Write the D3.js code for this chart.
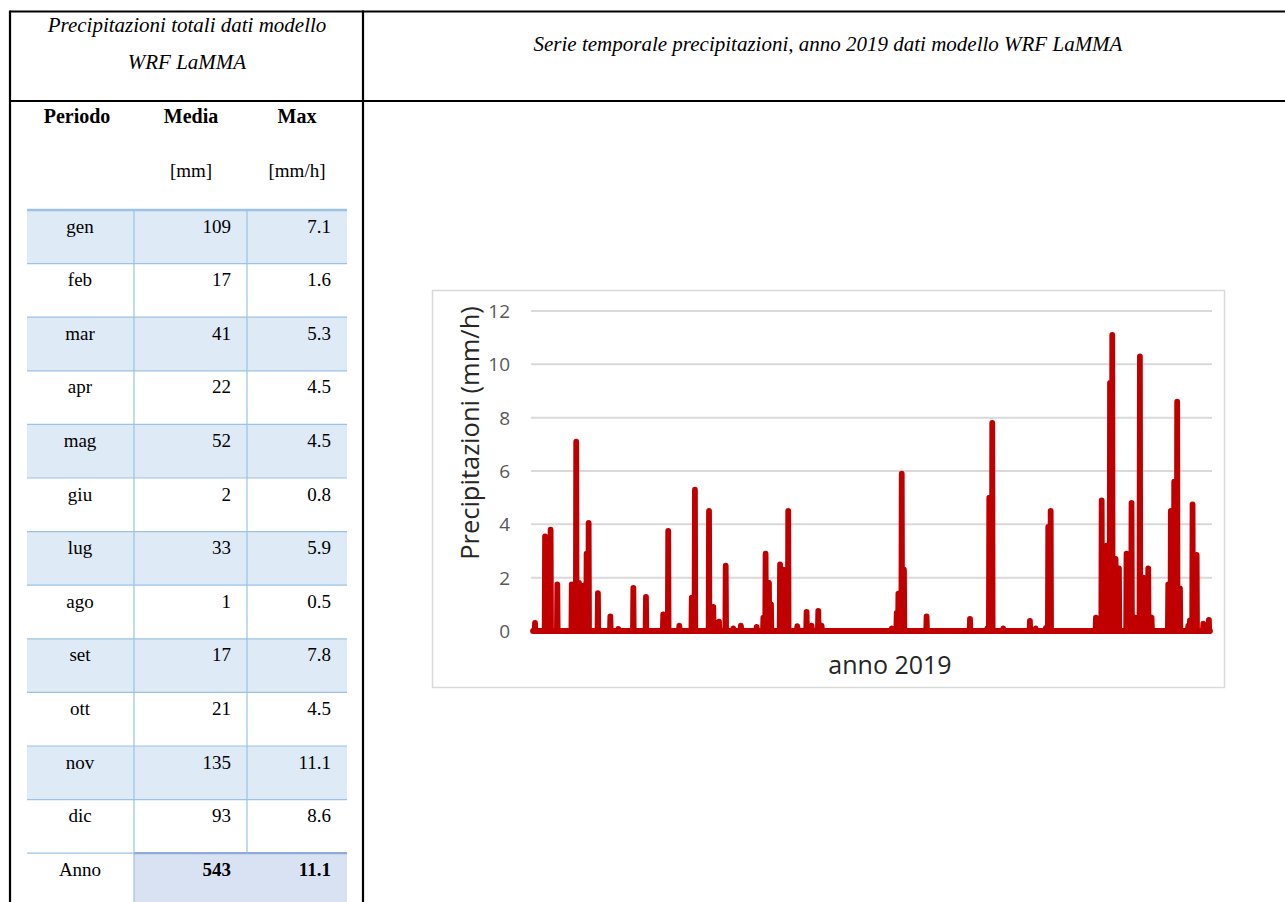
<!DOCTYPE html>
<html><head><meta charset="utf-8">
<script src="https://cdn.jsdelivr.net/npm/d3@7"></script>
<style>html,body{margin:0;padding:0;background:#fff;} svg{display:block}</style>
</head><body><svg id="c" width="1285" height="902"></svg>
<script>
// ---- data ----
const months = ["gen","feb","mar","apr","mag","giu","lug","ago","set","ott","nov","dic"];
const mediaMm = [109,17,41,22,52,2,33,1,17,21,135,93];
const maxMmH = [7.1,1.6,5.3,4.5,4.5,0.8,5.9,0.5,7.8,4.5,11.1,8.6];
const annoLabel = "Anno";
const annoMedia = 543;
const annoMax = 11.1;
const yTicks = [0,2,4,6,8,10,12];
// rain events: day of year and peak hourly rate (mm/h)
const spikeDay = [1.1,6.5,9.5,13.1,20.9,23.3,24.8,27.1,28.9,30.0,35.0,41.7,46.0,54.1,60.9,70.2,72.9,78.9,85.6,87.3,
  94.9,97.2,100.3,103.9,108.0,112.1,120.6,124.2,125.4,127.2,128.3,133.2,134.9,137.6,142.5,147.5,150.2,153.8,155.6,
  193.4,196.1,197.0,198.8,200.0,212.2,235.6,244.9,246.0,247.6,253.5,267.9,271.0,276.5,277.8,279.1,
  303.5,306.6,309.3,311.1,312.3,314.1,315.9,320.0,322.7,324.5,327.2,329.0,331.7,333.5,
  342.5,343.9,345.7,347.3,348.8,353.3,354.2,355.6,357.8,361.4,364.4];
const spikeMmH = [0.3,3.55,3.8,1.75,1.75,7.1,1.8,1.7,2.9,4.05,1.42,0.55,0.08,1.62,1.28,0.62,3.75,0.2,1.25,5.3,
  4.5,0.9,0.35,2.45,0.1,0.2,0.15,0.5,2.9,1.8,1.0,2.5,2.3,4.5,0.18,0.72,0.2,0.75,0.2,
  0.1,0.68,1.4,5.9,2.3,0.55,0.45,0.1,5.0,7.8,0.1,0.38,0.1,0.12,3.9,4.5,
  0.5,4.9,3.2,9.3,11.1,2.7,2.35,2.9,4.8,0.5,10.3,2.0,2.35,0.5,
  1.75,4.5,5.6,8.6,1.6,0.2,0.4,4.75,2.85,0.28,0.42];

const svg = d3.select("#c");
const serif = "'Liberation Serif','Times New Roman',serif";
const sans = "'Open Sans','Noto Sans',sans-serif";

// ---- outer table frame ----
const frame = svg.append("g").attr("stroke","#000").attr("stroke-width",2.2);
frame.append("line").attr("x1",10).attr("x2",1285).attr("y1",11.5).attr("y2",11.5);
frame.append("line").attr("x1",10).attr("x2",1285).attr("y1",101).attr("y2",101);
frame.append("line").attr("x1",10).attr("x2",10).attr("y1",10.5).attr("y2",902);
frame.append("line").attr("x1",363).attr("x2",363).attr("y1",10.5).attr("y2",902);

// header texts
svg.append("text").attr("x",187).attr("y",32).attr("text-anchor","middle")
  .attr("font-family",serif).attr("font-style","italic").attr("font-size",21).attr("fill","#000")
  .text("Precipitazioni totali dati modello");
svg.append("text").attr("x",187).attr("y",69).attr("text-anchor","middle")
  .attr("font-family",serif).attr("font-style","italic").attr("font-size",21).attr("fill","#000")
  .text("WRF LaMMA");
svg.append("text").attr("x",828).attr("y",51).attr("text-anchor","middle")
  .attr("font-family",serif).attr("font-style","italic").attr("font-size",21).attr("fill","#000")
  .text("Serie temporale precipitazioni, anno 2019 dati modello WRF LaMMA");

// ---- monthly table ----
const colX = [27,134,247,347];
const rowTop = 210, rowH = 53.6;
const tbl = svg.append("g");
const heads = [["Periodo",77],["Media",191],["Max",297]];
tbl.selectAll("text.h").data(heads).enter().append("text")
  .attr("x",d=>d[1]).attr("y",123).attr("text-anchor","middle")
  .attr("font-family",serif).attr("font-weight","bold").attr("font-size",20).text(d=>d[0]);
tbl.selectAll("text.u").data([["[mm]",191],["[mm/h]",297]]).enter().append("text")
  .attr("x",d=>d[1]).attr("y",177).attr("text-anchor","middle")
  .attr("font-family",serif).attr("font-size",19).text(d=>d[0]);

const rows = months.map((m,i)=>({m, med:mediaMm[i], mx:maxMmH[i], i}));
// fills
tbl.selectAll("rect.f").data(rows.filter(r=>r.i%2===0)).enter().append("rect")
  .attr("x",colX[0]).attr("width",colX[3]-colX[0])
  .attr("y",r=>rowTop+r.i*rowH).attr("height",rowH).attr("fill","#DEEAF6");
const annoTop = rowTop+12*rowH;
tbl.append("rect").attr("x",colX[1]).attr("width",colX[3]-colX[1])
  .attr("y",annoTop).attr("height",902-annoTop).attr("fill","#D9E2F3");
// horizontal lines
tbl.selectAll("line.r").data(d3.range(1,13)).enter().append("line")
  .attr("x1",colX[0]).attr("x2",colX[3])
  .attr("y1",i=>rowTop+i*rowH).attr("y2",i=>rowTop+i*rowH)
  .attr("stroke","#9CC2E5").attr("stroke-width",1.2);
tbl.append("line").attr("x1",colX[0]).attr("x2",colX[3]).attr("y1",rowTop).attr("y2",rowTop)
  .attr("stroke","#9CC2E5").attr("stroke-width",2.6);
tbl.append("line").attr("x1",colX[1]).attr("x2",colX[3]).attr("y1",annoTop).attr("y2",annoTop)
  .attr("stroke","#8EAADB").attr("stroke-width",2.2);
// vertical lines
tbl.append("line").attr("x1",colX[1]).attr("x2",colX[1]).attr("y1",rowTop).attr("y2",902)
  .attr("stroke","#9CC2E5").attr("stroke-width",1.2);
tbl.append("line").attr("x1",colX[2]).attr("x2",colX[2]).attr("y1",rowTop).attr("y2",annoTop)
  .attr("stroke","#9CC2E5").attr("stroke-width",1.2);
// row texts
const rg = tbl.selectAll("g.row").data(rows).enter().append("g")
  .attr("font-family",serif).attr("font-size",19).attr("fill","#000");
rg.append("text").attr("x",80).attr("y",r=>rowTop+r.i*rowH+22.5).attr("text-anchor","middle").text(r=>r.m);
rg.append("text").attr("x",231).attr("y",r=>rowTop+r.i*rowH+22.5).attr("text-anchor","end").text(r=>r.med);
rg.append("text").attr("x",331).attr("y",r=>rowTop+r.i*rowH+22.5).attr("text-anchor","end").text(r=>d3.format(".1f")(r.mx));
const ag = tbl.append("g").attr("font-family",serif).attr("font-size",19);
ag.append("text").attr("x",80).attr("y",annoTop+22.5).attr("text-anchor","middle").text(annoLabel);
ag.append("text").attr("x",231).attr("y",annoTop+22.5).attr("text-anchor","end").attr("font-weight","bold").text(annoMedia);
ag.append("text").attr("x",331).attr("y",annoTop+22.5).attr("text-anchor","end").attr("font-weight","bold").text(d3.format(".1f")(annoMax));

// ---- chart ----
const ch = svg.append("g");
ch.append("rect").attr("x",432.5).attr("y",290.5).attr("width",792).attr("height",397)
  .attr("fill","#fff").attr("stroke","#d9d9d9").attr("stroke-width",1.5);
const x = d3.scaleLinear().domain([0,365]).range([533,1210]);
const y = d3.scaleLinear().domain([0,12]).range([631,311]);
const gx0 = 531, gx1 = 1212;
ch.selectAll("line.g").data(yTicks).enter().append("line")
  .attr("x1",gx0).attr("x2",gx1).attr("y1",d=>y(d)).attr("y2",d=>y(d))
  .attr("stroke","#d9d9d9").attr("stroke-width",2);
ch.selectAll("text.t").data(yTicks).enter().append("text")
  .attr("x",510).attr("y",d=>y(d)).attr("dy","0.36em").attr("text-anchor","end")
  .attr("font-family",sans).attr("font-size",19).attr("fill","#595959").text(d=>d);
ch.append("text").attr("transform","translate(479,433) rotate(-90)").attr("text-anchor","middle")
  .attr("font-family",sans).attr("font-size",25.5).attr("fill","#262626")
  .text("Precipitazioni (mm/h)");
ch.append("text").attr("x",890).attr("y",674).attr("text-anchor","middle")
  .attr("font-family",sans).attr("font-size",25).attr("fill","#262626").text("anno 2019");

// series
const pts = [[0,0]];
spikeDay.forEach((d,i)=>{ pts.push([d-0.2,0],[d,spikeMmH[i]],[d+0.2,0]); });
pts.push([365,0]);
ch.append("path").datum(pts)
  .attr("d",d3.line().x(d=>x(d[0])).y(d=>y(d[1])))
  .attr("fill","none").attr("stroke","#C00000").attr("stroke-width",5.8)
  .attr("stroke-linejoin","round").attr("stroke-linecap","round");
</script></body></html>
